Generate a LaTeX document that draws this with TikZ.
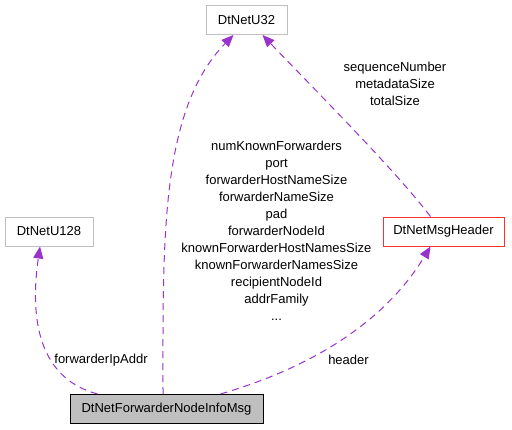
\documentclass[tikz,border=0pt]{standalone}
\usepackage{fontspec}
\setmainfont{Liberation Sans}
\usetikzlibrary{arrows.meta}
\definecolor{edgepurple}{HTML}{9A32CD}
\definecolor{boxgray}{HTML}{BFBFBF}
\definecolor{boxred}{HTML}{FF3030}

\tikzset{
  classbox/.style={draw=boxgray, line width=1pt, minimum height=29pt, inner sep=0pt, font=\fontsize{13}{16}\selectfont},
  uses/.style={edgepurple, line width=1pt, dash pattern=on 7pt off 5pt, -{Triangle[length=12pt,width=10pt]}},
  lbl/.style={align=center, inner sep=0pt, font=\fontsize{13}{17}\selectfont}
}

\begin{document}
\begin{tikzpicture}[x=1pt, y=-1pt]
\useasboundingbox (0,0) rectangle (512,429);

% Define the class boxes
\node[classbox, minimum width=81pt] (u32) at (246.5,20) {DtNetU32};
\node[classbox, minimum width=88pt] (u128) at (49,231.5) {DtNetU128};
\node[classbox, draw=boxred, minimum width=121pt] (header) at (443.5,231.5) {DtNetMsgHeader};
\node[classbox, draw=black, fill=boxgray, minimum width=193pt] (msg) at (166.5,409) {DtNetForwarderNodeInfoMsg};

% Anchor points of the connectors
\coordinate (m1) at ([xshift=-69pt]msg.north);
\coordinate (m2) at ([xshift=-3.5pt]msg.north);
\coordinate (m3) at ([xshift=54pt]msg.north);
\coordinate (h1) at ([xshift=-13pt]header.north);

% Usage connectors
\draw[uses] (m1) .. controls (45,380) and (28,330) .. ([xshift=-9pt]u128.south);
\draw[uses] (m2) .. controls (163,240) and (160,110) .. ([xshift=-13pt]u32.south);
\draw[uses] (m3) .. controls (330,362) and (392,310) .. ([xshift=-13pt]header.south);
\draw[uses] (h1) .. controls (395,170) and (315,90) .. ([xshift=16pt]u32.south);

% Member labels
\node[lbl] (lseq) at (395,84) {sequenceNumber\\metadataSize\\totalSize};
\node[lbl] (lmain) at (276.5,230.5) {numKnownForwarders\\port\\forwarderHostNameSize\\forwarderNameSize\\pad\\forwarderNodeId\\knownForwarderHostNamesSize\\knownForwarderNamesSize\\recipientNodeId\\addrFamily\\...};
\node[lbl] (lip) at (101,360) {forwarderIpAddr};
\node[lbl] (lhdr) at (348.5,360) {header};

\end{tikzpicture}
\end{document}
